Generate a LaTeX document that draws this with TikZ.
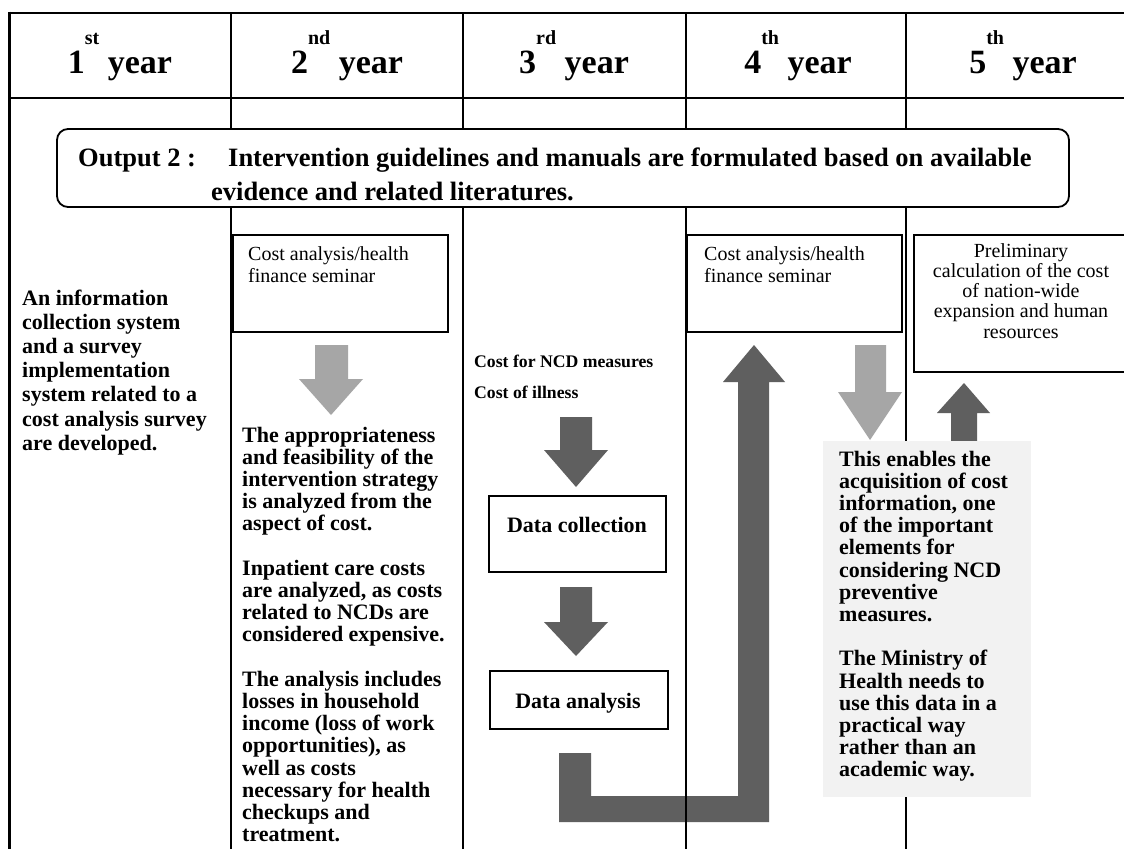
\documentclass[tikz,border=0pt]{standalone}
\usepackage{fontspec}
\setmainfont{Liberation Serif}
\definecolor{darkarrow}{HTML}{5F5F5F}
\definecolor{lightarrow}{HTML}{A6A6A6}
\definecolor{notebg}{HTML}{F2F2F2}
\begin{document}
\begin{tikzpicture}[x=1pt,y=-1pt,
  gridline/.style={line width=2pt,black},
  heavyline/.style={line width=2.6pt,black},
  framebox/.style={draw,line width=1.6pt,inner sep=0pt,anchor=north west},
  headtext/.style={anchor=base,inner sep=0pt,font=\bfseries\fontsize{34}{34}\selectfont},
  % multi-line nodes are placed by the baseline of their last line
  bodytext/.style={anchor=base west,inner sep=0pt,align=left,font=\bfseries\fontsize{22}{22.2}\selectfont},
  plaintext/.style={anchor=base west,inner sep=0pt,align=left,font=\fontsize{20}{22}\selectfont},
  smallbold/.style={anchor=base west,inner sep=0pt,font=\bfseries\fontsize{17.7}{20}\selectfont},
  bannertext/.style={anchor=base west,inner sep=0pt,font=\bfseries\fontsize{26.5}{30}\selectfont},
  darkfill/.style={fill=darkarrow,draw=none},
  lightfill/.style={fill=lightarrow,draw=none}]

\useasboundingbox (0,0) rectangle (1124,849);
\fill[white] (0,0) rectangle (1124,849);

% block arrows
\path[lightfill] (315,345) -- (348,345) -- (348,379) -- (363,379) -- (331,415) -- (299,379) -- (315,379) -- cycle;
\path[lightfill] (855,345) -- (886,345) -- (886,392) -- (902,392) -- (870,440) -- (838,392) -- (855,392) -- cycle;
\path[darkfill] (560,417) -- (592,417) -- (592,450) -- (608,450) -- (576,487) -- (544,450) -- (560,450) -- cycle;
\path[darkfill] (560,587) -- (592,587) -- (592,622) -- (608,622) -- (576,656) -- (544,622) -- (560,622) -- cycle;
\path[darkfill] (559,753) -- (591,753) -- (591,796) -- (738,796) -- (738,382) -- (723,382) -- (754,345)
  -- (785,382) -- (769,382) -- (769,822) -- (559,822) -- cycle;
\path[darkfill] (951,441) -- (951,413) -- (937,413) -- (964,383) -- (990,413) -- (977,413) -- (977,441) -- cycle;

% table rules
\draw[heavyline] (8.2,13) -- (1124,13);
\draw[gridline] (8.2,98) -- (1124,98);
\draw[heavyline] (9.5,11.7) -- (9.5,849);
\foreach \cx in {231,463,686,906}
  \draw[gridline] (\cx,13) -- (\cx,849);

% header row
\node[headtext] (y1) at (120,73) {1\raisebox{29pt}{\fontsize{20}{20}\selectfont st} year};
\node[headtext] (y2) at (347,73) {2\raisebox{29pt}{\fontsize{20}{20}\selectfont nd} year};
\node[headtext] (y3) at (574,73) {3\raisebox{29pt}{\fontsize{20}{20}\selectfont rd} year};
\node[headtext] (y4) at (798,73) {4\raisebox{29pt}{\fontsize{20}{20}\selectfont th} year};
\node[headtext] (y5) at (1023,73) {5\raisebox{29pt}{\fontsize{20}{20}\selectfont th} year};

% output banner
\node[draw,line width=1.8pt,fill=white,rounded corners=11pt,minimum width=1012pt,minimum height=78pt,inner sep=0pt]
  (banner) at (563,168) {};
\node[bannertext] (outlabel) at (78,166) {Output 2 :};
\node[bannertext] (outline1) at (228,166)
  {Intervention guidelines and manuals are formulated based on available};
\node[bannertext] (outline2) at (211,200)
  {evidence and related literatures.};

% first year
\node[bodytext,font=\bfseries\fontsize{22}{24.2}\selectfont] (infosys) at (22,450.2)
  {An information\\collection system\\and a survey\\implementation\\system related to a\\cost analysis survey\\are developed.};

% second year
\node[framebox,minimum width=215pt,minimum height=97pt] (seminarA) at (232,234) {};
\node[plaintext] (seminarAtext) at (248,282) {Cost analysis/health\\finance seminar};
\node[bodytext] (costnotes) at (242,841.6)
  {The appropriateness\\and feasibility of the\\intervention strategy\\is analyzed from the\\aspect of cost.\\[22.2pt]
   Inpatient care costs\\are analyzed, as costs\\related to NCDs are\\considered expensive.\\[22.2pt]
   The analysis includes\\losses in household\\income (loss of work\\opportunities), as\\well as costs\\necessary for health\\checkups and\\treatment.};

% third year
\node[smallbold] (ncdcost) at (474,367) {Cost for NCD measures};
\node[smallbold] (illcost) at (474,398) {Cost of illness};
\node[framebox,minimum width=177pt,minimum height=76pt] (collect) at (488,495) {};
\node[anchor=base,inner sep=0pt,font=\bfseries\fontsize{22}{22}\selectfont] (collecttext) at (577,532) {Data collection};
\node[framebox,minimum width=178pt,minimum height=58pt] (analyse) at (489,670) {};
\node[anchor=base,inner sep=0pt,font=\bfseries\fontsize{22}{22}\selectfont] (analysetext) at (578,708) {Data analysis};

% fourth year
\node[framebox,minimum width=215pt,minimum height=97pt] (seminarB) at (686,234) {};
\node[plaintext] (seminarBtext) at (704,282) {Cost analysis/health\\finance seminar};
\node[fill=notebg,draw=none,inner sep=0pt,minimum width=208pt,minimum height=356pt,anchor=north west] (note) at (823,441) {};
\node[bodytext] (notetext) at (839,776.8)
  {This enables the\\acquisition of cost\\information, one\\of the important\\elements for\\considering NCD\\preventive\\measures.\\[22.2pt]
   The Ministry of\\Health needs to\\use this data in a\\practical way\\rather than an\\academic way.};

% fifth year
\node[framebox,minimum width=220pt,minimum height=137pt] (prelim) at (913,234) {};
\node[anchor=base,inner sep=0pt,align=center,font=\fontsize{20}{20.3}\selectfont] (prelimtext) at (1021,338.2)
  {Preliminary\\calculation of the cost\\of nation-wide\\expansion and human\\resources};

\end{tikzpicture}
\end{document}
